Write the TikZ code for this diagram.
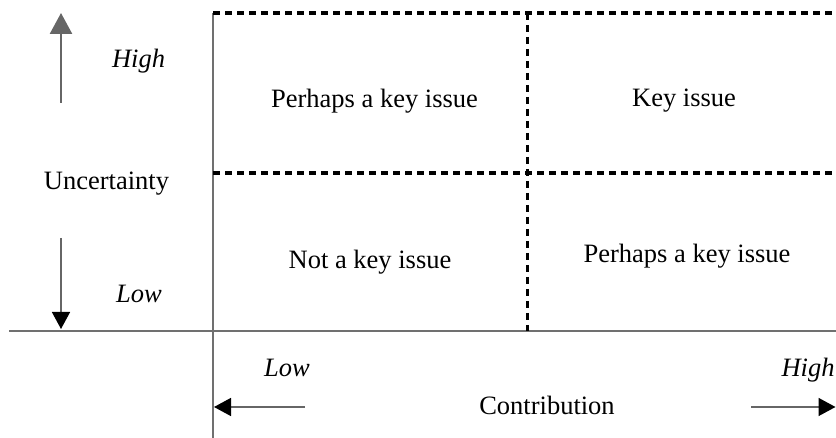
\documentclass[tikz,border=0pt]{standalone}
\usepackage{fontspec}
\setmainfont{Liberation Serif}
\usetikzlibrary{arrows.meta}
\definecolor{axisgray}{HTML}{707070}
\definecolor{arrgray}{HTML}{666666}
\begin{document}
\begin{tikzpicture}[x=1pt,y=1pt,
  lbl/.style={anchor=base,inner sep=0pt,font=\fontsize{26.5}{30}\selectfont},
  ilbl/.style={lbl,font=\fontsize{26.5}{30}\selectfont\itshape},
  axisline/.style={draw=axisgray,line width=2pt},
  gridline/.style={draw=black,line width=3.4pt,dash pattern=on 7pt off 5pt},
  thinarrow/.style={draw=arrgray,line width=1.5pt,-{Triangle[length=17pt,width=18pt,black]}},
  thickarrow/.style={draw=arrgray,line width=2.6pt,-{Triangle[length=21pt,width=22pt,arrgray]}}
]
\useasboundingbox (0,0) rectangle (836,438);
% frame coordinates
\coordinate (vtop) at (213,425);
\coordinate (vbot) at (213,0);
\coordinate (hleft) at (9,106.5);
\coordinate (hright) at (836,106.5);
\coordinate (tr) at (836,425);
\coordinate (ml) at (213,265);
\coordinate (mr) at (836,265);
\coordinate (ct) at (527.5,425);
\coordinate (cb) at (527.5,107);
% arrows
\coordinate (upS) at (61,335);
\coordinate (upE) at (61,425);
\coordinate (dnS) at (61,200);
\coordinate (dnE) at (61,109);
\coordinate (lfS) at (305,31);
\coordinate (lfE) at (214,31);
\coordinate (rtS) at (751,31);
\coordinate (rtE) at (835.5,31);

\draw[axisline] (vtop) -- (vbot);
\draw[axisline] (hleft) -- (hright);
\draw[gridline] (vtop) -- (tr);
\draw[gridline] (ml) -- (mr);
\draw[gridline] (ct) -- (cb);

\draw[thickarrow] (upS) -- (upE);
\draw[thinarrow] (dnS) -- (dnE);
\draw[thinarrow] (lfS) -- (lfE);
\draw[thinarrow] (rtS) -- (rtE);

\node[lbl] (pk1) at (374.5,330) {Perhaps a key issue};
\node[lbl] (ki) at (684,331) {Key issue};
\node[lbl] (nk) at (370,169) {Not a key issue};
\node[lbl] (pk2) at (687,175) {Perhaps a key issue};
\node[lbl] (unc) at (106.5,248) {Uncertainty};
\node[ilbl] (high1) at (138.5,370) {High};
\node[ilbl] (low1) at (139,135) {Low};
\node[ilbl] (low2) at (287,61) {Low};
\node[lbl] (contr) at (547,23) {Contribution};
\node[ilbl] (high2) at (808,61) {High};
\end{tikzpicture}
\end{document}
